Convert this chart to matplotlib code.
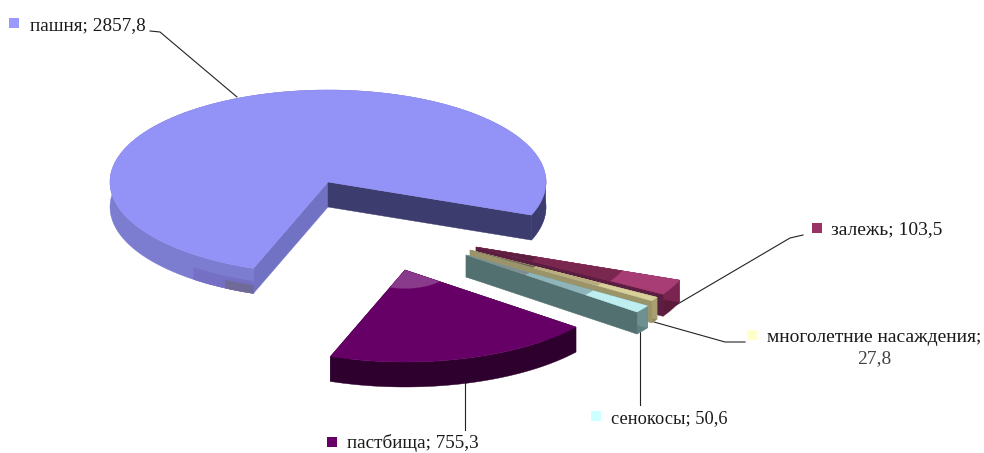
import numpy as np
import matplotlib
matplotlib.use('Agg')
import matplotlib.pyplot as plt
from matplotlib.patches import Polygon

plt.rcParams['font.family'] = ['Liberation Serif', 'DejaVu Serif']

names = ['пашня', 'залежь', 'многолетние насаждения', 'сенокосы', 'пастбища']
values = [2857.8, 103.5, 27.8, 50.6, 755.3]
value_labels = ['2857,8', '103,5', '27,8', '50,6', '755,3']

top_colors = ['#9292f7', '#993366', '#d8d09a', '#7fa3a3', '#660066']
side_colors = ['#7c7cd0', '#5c1a3c', '#8f8a60', '#5f8080', '#2e002e']
cut_colors = ['#3c3c6e', '#5a1e40', '#9a9468', '#527070', '#2e002e']
end_colors = ['#7272c4', '#7a2450', '#a8a070', '#6d9090', '#2e002e']
key_colors = ['#9999ff', '#993366', '#ffffcc', '#ccffff', '#660066']

# radial shading on the top faces: (from, to, colour), fraction of radius
top_bands = [
    [],
    [(0.0, 0.3, '#5e1f3e'), (0.3, 0.72, '#7a2750'), (0.72, 1.0, '#a83d76')],
    [(0.0, 0.35, '#6b6250'), (0.35, 0.7, '#b8ad80')],
    [(0.0, 0.35, '#7d8f92'), (0.35, 0.7, '#8fb5ba'), (0.7, 1.0, '#bfeef0')],
    [(0.0, 0.2, '#8a3a8a')],
]

# pie geometry (pixels)
cx, cy = 328, 182
rx, ry = 218, 92
start = -110
depths = [25, 22, 22, 22, 25]
offsets = [(0, 0), (148, 65), (142, 68), (138, 73), (77, 88)]

fig = plt.figure(figsize=(9.84, 4.53), dpi=100)
ax = fig.add_axes([0, 0, 1, 1])
ax.set_xlim(0, 984)
ax.set_ylim(453, 0)
ax.axis('off')


def arc(t0, t1, ox, oy, frac=1.0):
    t = np.radians(np.linspace(t0, t1, 120))
    return cx + ox + frac * rx * np.cos(t), cy + oy - frac * ry * np.sin(t)


def wall(t0, t1, ox, oy, d0, d1, color, z):
    x, y = arc(t0, t1, ox, oy)
    ax.add_patch(Polygon(np.r_[np.c_[x, y + d0], np.c_[x, y + d1][::-1]], fc=color, ec=color, lw=0.3, zorder=z))


def draw_slice(t0, t1, ox, oy, d, top, side, cut, end, bands, z):
    x, y = arc(t0, t1, ox, oy)
    ax0, ay0 = cx + ox, cy + oy
    wall(t0, t1, ox, oy, 0, d, side, z)
    ax.add_patch(Polygon([(ax0, ay0), (x[0], y[0]), (x[0], y[0] + d), (ax0, ay0 + d)], fc=end, ec=end, lw=0.3, zorder=z))
    ax.add_patch(Polygon([(ax0, ay0), (x[-1], y[-1]), (x[-1], y[-1] + d), (ax0, ay0 + d)], fc=cut, ec=cut, lw=0.3, zorder=z))
    ax.add_patch(Polygon(np.r_[[(ax0, ay0)], np.c_[x, y]], fc=top, ec=top, lw=0.3, zorder=z + 0.5))
    for r0, r1, c in bands:
        xa, ya = arc(t0, t1, ox, oy, r0)
        xb, yb = arc(t0, t1, ox, oy, r1)
        ax.add_patch(Polygon(np.r_[np.c_[xa, ya], np.c_[xb, yb][::-1]], fc=c, ec=c, lw=0.2, zorder=z + 0.6))


total = sum(values)
angle = start
for i, v in enumerate(values):
    span = v / total * 360
    # clockwise from the start angle
    ox, oy = offsets[i]
    draw_slice(angle, angle - span, ox, oy, depths[i], top_colors[i], side_colors[i],
               cut_colors[i], end_colors[i], top_bands[i], 2 + i)
    angle -= span

# shading on the big slice wall
wall(-21, 3, 0, 0, 0, 25, '#3c3c6e', 2.1)
wall(-110, -128, 0, 0, 13, 25, '#7570c4', 2.1)
wall(-110, -118, 0, 0, 17, 25, '#6f6a98', 2.2)

# leader lines
leaders = [
    ([150, 160, 237], [31, 32, 97]),
    ([803, 790, 676], [235, 238, 305]),
    ([745, 725, 654], [342, 342, 322]),
    ([640, 640], [332, 405]),
    ([465, 465], [383, 430]),
]
for lx, ly in leaders:
    ax.plot(lx, ly, color='#222222', lw=0.8, zorder=1.5)

# labels
label_pos = [(30, 26), (831, 230), (767, 337), (611, 419), (347, 443.5)]
label_size = [13.9, 14, 14, 13.2, 13.75]
key_pos = [(14, 23), (817, 228), (752, 335), (596, 416), (332, 442)]
for i in [0, 1, 3, 4]:
    ax.text(label_pos[i][0], label_pos[i][1], f'{names[i]}; {value_labels[i]}', fontsize=label_size[i],
            color='#1a1a1a', va='center', ha='left', zorder=10)
ax.text(label_pos[2][0], label_pos[2][1], f'{names[2]};', fontsize=label_size[2], color='#1a1a1a',
        va='center', ha='left', zorder=10)
ax.text(874, 359, value_labels[2], fontsize=14, color='#444444', va='center', ha='center', zorder=10)
for i, (kx, ky) in enumerate(key_pos):
    ax.scatter([kx], [ky], marker='s', s=50, color=key_colors[i], linewidths=0, zorder=10)

fig.savefig('out.png', dpi=100, facecolor='white')
